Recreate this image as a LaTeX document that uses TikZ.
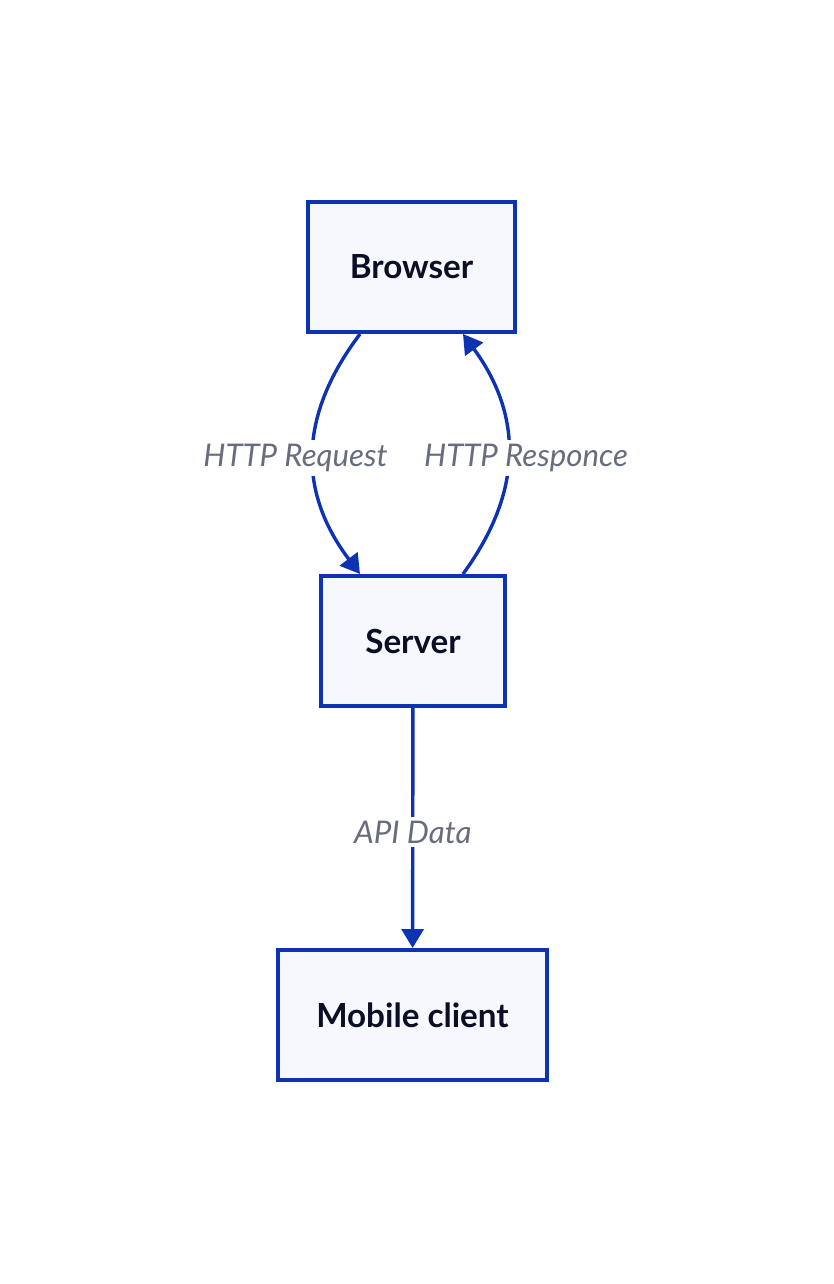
\documentclass[tikz,border=0pt]{standalone}
\usepackage{fontspec}
\setmainfont{Lato}
\usetikzlibrary{arrows.meta, positioning}
\definecolor{edgeblue}{HTML}{0D32B2}
\definecolor{boxfill}{HTML}{F7F8FE}
\definecolor{boxtext}{HTML}{0A0F25}
\definecolor{labelgray}{HTML}{676C7E}

\begin{document}
\begin{tikzpicture}[
  x=0.5pt, y=-0.5pt,
  box/.style={draw=edgeblue, line width=2pt, fill=boxfill, minimum height=65pt, align=center, text=boxtext, font=\fontsize{16.6}{19}\selectfont\bfseries},
  arr/.style={-{Triangle[length=9.5pt, width=11pt]}, draw=edgeblue, line width=1.7pt},
  lbl/.style={fill=white, text=labelgray, font=\fontsize{15.6}{19}\selectfont\itshape, inner sep=2pt, yshift=-2pt}
]
\useasboundingbox (0,0) rectangle (834,1284);
\node[box, minimum width=103.5pt] (browser) at (411.5,267) {Browser};
\node[box, minimum width=92pt] (server) at (413,641) {Server};
\node[box, minimum width=134.5pt] (mobile) at (412.5,1015) {Mobile client};
\draw[arr] ([xshift=-25.75pt]browser.south) .. controls +(-31pt,-41pt) and +(-31pt,41pt) .. ([xshift=-26.5pt]server.north)
  node[lbl, pos=0.5, xshift=-9pt] (req) {HTTP Request};
\draw[arr] ([xshift=25pt]server.north) .. controls +(30pt,41pt) and +(30pt,-41pt) .. ([xshift=25.75pt]browser.south)
  node[lbl, pos=0.5, xshift=9pt] (resp) {HTTP Responce};
\draw[arr] (server) -- (mobile) node[lbl, pos=0.5] (api) {API Data};
\end{tikzpicture}
\end{document}
